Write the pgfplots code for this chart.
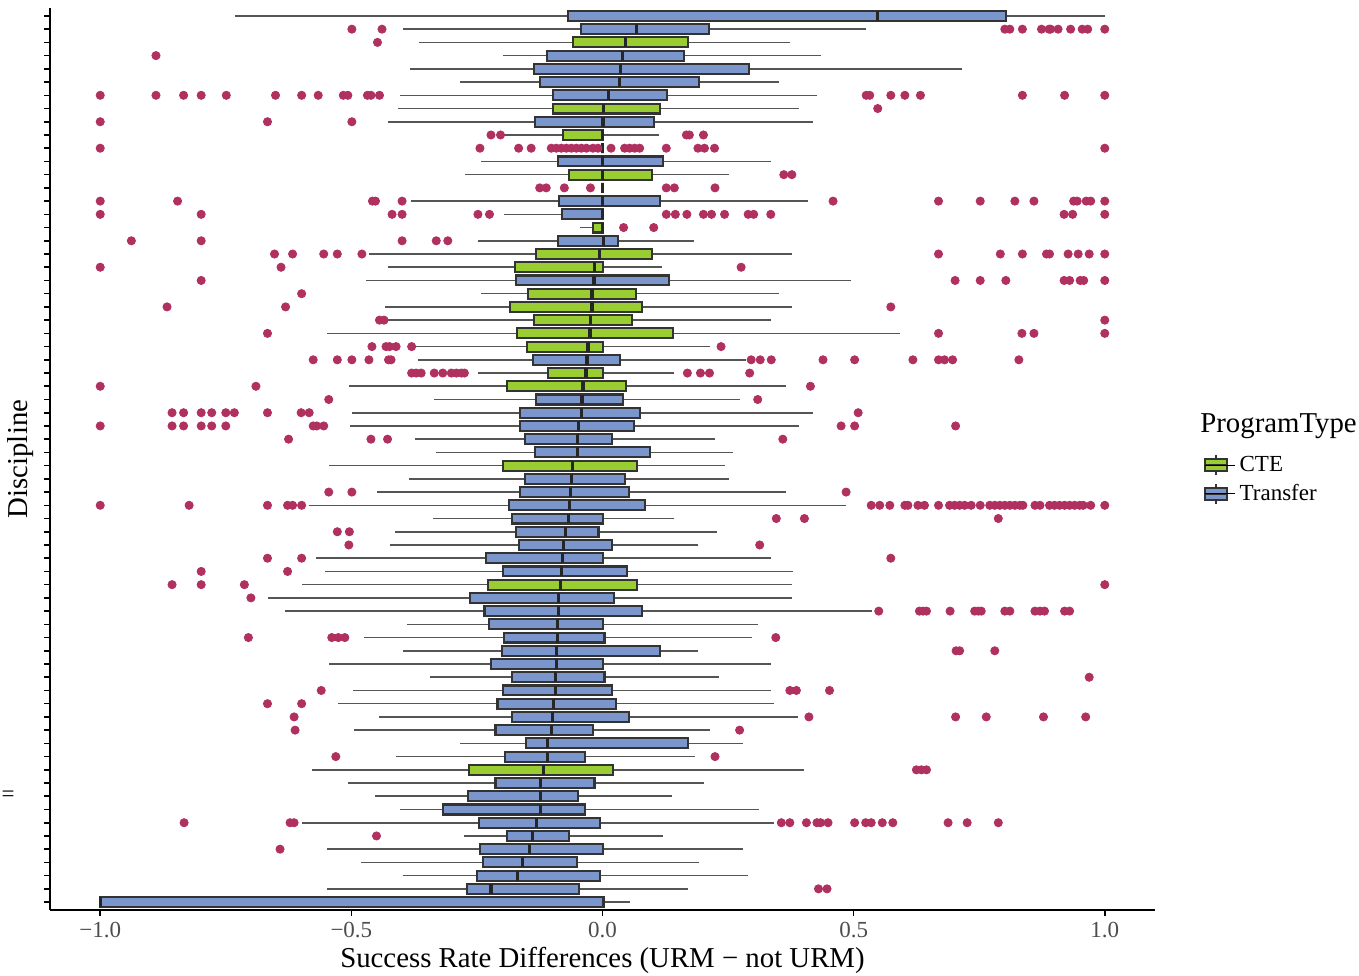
\documentclass[border=0pt]{standalone}
\usepackage{fontspec}
\setmainfont{Liberation Serif}
\usepackage{pgfplots}
\pgfplotsset{compat=1.18}
\usepgfplotslibrary{statistics}
\definecolor{cteG}{RGB}{154,205,50}
\definecolor{trB}{RGB}{122,150,204}
\definecolor{outl}{RGB}{176,48,96}
\definecolor{bord}{RGB}{51,51,51}
\definecolor{whisk}{RGB}{85,85,85}
\definecolor{tickgray}{RGB}{77,77,77}
\newcommand{\bx}[7]{\addplot[boxplot prepared={draw position=#1, lower whisker=#2, lower quartile=#3, median=#4, upper quartile=#5, upper whisker=#6}, fill=#7, draw=bord, forget plot] coordinates {};}
\begin{document}
\begin{tikzpicture}
\begin{axis}[
  at={(0,0)}, anchor=south west,
  scale only axis, width=552.5pt, height=451pt,
  xmin=-1.1, xmax=1.1, ymin=0.4, ymax=68.6, y dir=reverse,
  clip=false,
  axis lines=left, axis line style={-, line width=1pt, black},
  tick align=outside, major tick length=2.75pt,
  tick style={line width=0.8pt, black},
  xtick={-1,-0.5,0,0.5,1},
  xticklabels={−1.0,−0.5,0.0,0.5,1.0},
  xticklabel style={font=\fontsize{11.5}{13}\selectfont, text=tickgray},
  ytick={1,...,68}, yticklabel={\mbox{}},
  xlabel={Success Rate Differences (URM − not URM)},
  ylabel={Discipline},
  label style={font=\fontsize{14.4}{17}\selectfont},
  xlabel style={at={(axis description cs:0.5,-0.0554)}, anchor=center},
  ylabel style={at={(axis description cs:-0.027,0.5)}, anchor=center},
  boxplot/draw direction=x,
  boxplot/box extend=0.75,
  boxplot/whisker extend=0,
  boxplot/every box/.style={draw=bord, line width=1.05pt},
  boxplot/every whisker/.style={draw=whisk, line width=0.8pt},
  boxplot/every median/.style={draw=black!85, line width=1.6pt},
  legend style={at={(axis description cs:1.044,0.477)}, anchor=west, draw=none, fill=none, inner sep=0pt,
    font=\fontsize{11.5}{14}\selectfont, row sep=1pt},
  legend cell align=left,
]
\bx{1}{-0.732}{-0.068}{0.548}{0.803}{1.0}{trB}
\bx{2}{-0.398}{-0.043}{0.068}{0.212}{0.525}{trB}
\bx{3}{-0.365}{-0.058}{0.045}{0.170}{0.373}{cteG}
\bx{4}{-0.199}{-0.111}{0.040}{0.163}{0.436}{trB}
\bx{5}{-0.384}{-0.137}{0.036}{0.291}{0.716}{trB}
\bx{6}{-0.284}{-0.125}{0.034}{0.193}{0.351}{trB}
\bx{7}{-0.403}{-0.099}{0.012}{0.129}{0.427}{trB}
\bx{8}{-0.407}{-0.098}{0.002}{0.114}{0.391}{cteG}
\bx{9}{-0.428}{-0.135}{0.001}{0.102}{0.419}{trB}
\bx{10}{-0.195}{-0.078}{0.0}{0.0}{0.112}{cteG}
\bx{11}{0}{0}{0}{0}{0}{cteG}
\bx{12}{-0.241}{-0.088}{0.0}{0.120}{0.335}{trB}
\bx{13}{-0.274}{-0.067}{0.0}{0.098}{0.252}{cteG}
\bx{14}{0}{0}{0}{0}{0}{cteG}
\bx{15}{-0.381}{-0.087}{0.0}{0.114}{0.409}{trB}
\bx{16}{-0.197}{-0.081}{0.0}{0.0}{0.0}{trB}
\bx{17}{-0.044}{-0.019}{0.0}{0.0}{0.0}{cteG}
\bx{18}{-0.248}{-0.089}{0.002}{0.031}{0.183}{trB}
\bx{19}{-0.465}{-0.132}{-0.006}{0.099}{0.377}{cteG}
\bx{20}{-0.428}{-0.174}{-0.016}{0.001}{0.119}{cteG}
\bx{21}{-0.471}{-0.172}{-0.017}{0.133}{0.494}{trB}
\bx{22}{-0.242}{-0.149}{-0.021}{0.066}{0.351}{cteG}
\bx{23}{-0.434}{-0.185}{-0.021}{0.078}{0.377}{cteG}
\bx{24}{-0.428}{-0.137}{-0.024}{0.058}{0.335}{cteG}
\bx{25}{-0.549}{-0.170}{-0.025}{0.140}{0.592}{cteG}
\bx{26}{-0.375}{-0.151}{-0.029}{0.001}{0.215}{cteG}
\bx{27}{-0.368}{-0.139}{-0.031}{0.035}{0.286}{trB}
\bx{28}{-0.247}{-0.108}{-0.033}{0.001}{0.143}{cteG}
\bx{29}{-0.505}{-0.190}{-0.039}{0.047}{0.365}{cteG}
\bx{30}{-0.335}{-0.132}{-0.041}{0.040}{0.274}{trB}
\bx{31}{-0.499}{-0.165}{-0.042}{0.074}{0.419}{trB}
\bx{32}{-0.503}{-0.165}{-0.048}{0.062}{0.391}{trB}
\bx{33}{-0.373}{-0.155}{-0.050}{0.019}{0.223}{trB}
\bx{34}{-0.331}{-0.134}{-0.050}{0.094}{0.260}{trB}
\bx{35}{-0.544}{-0.199}{-0.060}{0.068}{0.243}{cteG}
\bx{36}{-0.386}{-0.155}{-0.062}{0.044}{0.252}{trB}
\bx{37}{-0.449}{-0.164}{-0.064}{0.052}{0.366}{trB}
\bx{38}{-0.585}{-0.187}{-0.066}{0.084}{0.484}{trB}
\bx{39}{-0.338}{-0.181}{-0.068}{0.001}{0.143}{trB}
\bx{40}{-0.414}{-0.172}{-0.074}{-0.008}{0.228}{trB}
\bx{41}{-0.424}{-0.167}{-0.078}{0.019}{0.190}{trB}
\bx{42}{-0.570}{-0.232}{-0.079}{0.001}{0.336}{trB}
\bx{43}{-0.552}{-0.199}{-0.081}{0.049}{0.379}{trB}
\bx{44}{-0.599}{-0.228}{-0.084}{0.069}{0.377}{cteG}
\bx{45}{-0.665}{-0.264}{-0.087}{0.022}{0.377}{trB}
\bx{46}{-0.632}{-0.235}{-0.088}{0.078}{0.537}{trB}
\bx{47}{-0.390}{-0.226}{-0.089}{0.001}{0.309}{trB}
\bx{48}{-0.474}{-0.197}{-0.090}{0.004}{0.297}{trB}
\bx{49}{-0.398}{-0.200}{-0.091}{0.115}{0.190}{trB}
\bx{50}{-0.544}{-0.222}{-0.092}{0.001}{0.335}{trB}
\bx{51}{-0.343}{-0.180}{-0.094}{0.004}{0.232}{trB}
\bx{52}{-0.496}{-0.199}{-0.094}{0.019}{0.335}{trB}
\bx{53}{-0.526}{-0.209}{-0.097}{0.026}{0.341}{trB}
\bx{54}{-0.444}{-0.181}{-0.099}{0.052}{0.390}{trB}
\bx{55}{-0.495}{-0.213}{-0.102}{-0.019}{0.215}{trB}
\bx{56}{-0.283}{-0.152}{-0.109}{0.170}{0.280}{trB}
\bx{57}{-0.411}{-0.194}{-0.109}{-0.035}{0.185}{trB}
\bx{58}{-0.579}{-0.265}{-0.118}{0.021}{0.402}{cteG}
\bx{59}{-0.507}{-0.213}{-0.124}{-0.016}{0.203}{trB}
\bx{60}{-0.453}{-0.267}{-0.124}{-0.049}{0.138}{trB}
\bx{61}{-0.404}{-0.318}{-0.124}{-0.035}{0.311}{trB}
\bx{62}{-0.599}{-0.246}{-0.131}{-0.005}{0.341}{trB}
\bx{63}{-0.276}{-0.191}{-0.140}{-0.066}{0.120}{trB}
\bx{64}{-0.548}{-0.244}{-0.145}{0.001}{0.280}{trB}
\bx{65}{-0.481}{-0.238}{-0.159}{-0.051}{0.193}{trB}
\bx{66}{-0.398}{-0.250}{-0.170}{-0.005}{0.289}{trB}
\bx{67}{-0.548}{-0.270}{-0.222}{-0.046}{0.170}{trB}
\bx{68}{-1.0}{-1.0}{-1.0}{0.002}{0.054}{trB}
\addplot[only marks, mark=*, mark size=2.05pt, color=outl, forget plot] table {
x y
-0.499 2
-0.439 2
0.801 2
0.811 2
0.836 2
0.874 2
0.889 2
0.892 2
0.907 2
0.932 2
0.955 2
0.966 2
1.0 2
-0.448 3
-0.889 4
-1.0 7
-0.889 7
-0.834 7
-0.799 7
-0.749 7
-0.651 7
-0.599 7
-0.566 7
-0.516 7
-0.507 7
-0.468 7
-0.461 7
-0.444 7
0.525 7
0.532 7
0.574 7
0.602 7
0.633 7
0.836 7
0.920 7
1.0 7
0.548 8
-1.0 9
-0.667 9
-0.499 9
-0.222 10
-0.203 10
0.167 10
0.173 10
0.201 10
-1.0 11
-0.244 11
-0.167 11
-0.142 11
-0.102 11
-0.092 11
-0.082 11
-0.072 11
-0.062 11
-0.052 11
-0.042 11
-0.032 11
-0.019 11
-0.009 11
0.017 11
0.044 11
0.054 11
0.064 11
0.074 11
0.127 11
0.190 11
0.203 11
0.223 11
1.0 11
0.361 13
0.377 13
-0.125 14
-0.112 14
-0.076 14
-0.024 14
0.127 14
0.143 14
0.224 14
-1.0 15
-0.846 15
-0.458 15
-0.452 15
-0.399 15
0.459 15
0.669 15
0.752 15
0.821 15
0.859 15
0.938 15
0.945 15
0.963 15
0.972 15
1.0 15
-1.0 16
-0.799 16
-0.419 16
-0.399 16
-0.248 16
-0.225 16
0.127 16
0.145 16
0.168 16
0.201 16
0.217 16
0.243 16
0.290 16
0.301 16
0.335 16
0.919 16
0.936 16
1.0 16
0.042 17
0.102 17
-0.938 18
-0.799 18
-0.399 18
-0.331 18
-0.308 18
-0.653 19
-0.617 19
-0.555 19
-0.528 19
-0.479 19
0.669 19
0.792 19
0.836 19
0.884 19
0.890 19
0.927 19
0.947 19
0.969 19
1.0 19
-1.0 20
-0.640 20
0.276 20
-0.799 21
0.702 21
0.752 21
0.803 21
0.919 21
0.930 21
0.951 21
0.958 21
1.0 21
-0.599 22
-0.867 23
-0.631 23
0.574 23
-0.444 24
-0.435 24
1.0 24
-0.667 25
0.669 25
0.835 25
0.859 25
1.0 25
-0.459 26
-0.431 26
-0.424 26
-0.411 26
-0.380 26
0.236 26
-0.576 27
-0.528 27
-0.499 27
-0.465 27
-0.426 27
-0.421 27
0.296 27
0.314 27
0.336 27
0.439 27
0.502 27
0.618 27
0.669 27
0.681 27
0.697 27
0.829 27
-0.380 28
-0.371 28
-0.361 28
-0.335 28
-0.318 28
-0.301 28
-0.291 28
-0.281 28
-0.275 28
0.169 28
0.195 28
0.213 28
0.293 28
-1.0 29
-0.690 29
0.414 29
-0.545 30
0.309 30
-0.857 31
-0.834 31
-0.799 31
-0.778 31
-0.750 31
-0.733 31
-0.667 31
-0.600 31
-0.584 31
0.509 31
-1.0 32
-0.857 32
-0.834 32
-0.799 32
-0.778 32
-0.750 32
-0.576 32
-0.569 32
-0.555 32
0.475 32
0.502 32
0.703 32
-0.625 33
-0.461 33
-0.428 33
0.359 33
-0.545 37
-0.499 37
0.485 37
-1.0 38
-0.823 38
-0.667 38
-0.627 38
-0.617 38
-0.599 38
0.535 38
0.552 38
0.572 38
0.602 38
0.608 38
0.628 38
0.641 38
0.669 38
0.691 38
0.701 38
0.711 38
0.721 38
0.734 38
0.752 38
0.771 38
0.781 38
0.791 38
0.801 38
0.811 38
0.821 38
0.831 38
0.837 38
0.861 38
0.871 38
0.890 38
0.900 38
0.910 38
0.920 38
0.930 38
0.940 38
0.950 38
0.957 38
0.972 38
1.0 38
0.346 39
0.402 39
0.788 39
-0.528 40
-0.504 40
-0.505 41
0.313 41
-0.667 42
-0.599 42
0.574 42
-0.799 43
-0.627 43
-0.857 44
-0.799 44
-0.713 44
1.0 44
-0.700 45
0.550 46
0.631 46
0.638 46
0.645 46
0.692 46
0.741 46
0.748 46
0.754 46
0.801 46
0.811 46
0.861 46
0.871 46
0.880 46
0.920 46
0.930 46
-0.705 48
-0.539 48
-0.526 48
-0.513 48
0.345 48
0.704 49
0.711 49
0.781 49
0.969 51
-0.560 52
0.373 52
0.386 52
0.452 52
-0.667 53
-0.599 53
-0.614 54
0.411 54
0.703 54
0.764 54
0.878 54
0.962 54
-0.612 55
0.273 55
-0.531 57
0.224 57
0.625 58
0.635 58
0.645 58
-0.833 62
-0.622 62
-0.614 62
0.356 62
0.373 62
0.406 62
0.427 62
0.434 62
0.449 62
0.502 62
0.524 62
0.535 62
0.557 62
0.578 62
0.688 62
0.726 62
0.788 62
-0.450 63
-0.642 64
0.430 67
0.447 67
};
\addlegendimage{legend image code/.code={
  \draw[line width=0.8pt, bord] (5.5pt,-5pt) -- (5.5pt,5pt);
  \draw[fill=cteG, draw=bord, line width=0.8pt] (0pt,-3pt) rectangle (11pt,3pt);
  \draw[line width=1.2pt, bord] (0pt,0pt) -- (11pt,0pt);
  \path (0pt,0pt) -- (15pt,0pt);}}
\addlegendentry{CTE}
\addlegendimage{legend image code/.code={
  \draw[line width=0.8pt, bord] (5.5pt,-5pt) -- (5.5pt,5pt);
  \draw[fill=trB, draw=bord, line width=0.8pt] (0pt,-3pt) rectangle (11pt,3pt);
  \draw[line width=1.2pt, bord] (0pt,0pt) -- (11pt,0pt);
  \path (0pt,0pt) -- (15pt,0pt);}}
\addlegendentry{Transfer}
\node[anchor=base west, inner sep=0pt, font=\fontsize{14.4}{17}\selectfont] at (axis description cs:1.0407,0.529) {ProgramType};
\node[anchor=center, inner sep=0pt, font=\fontsize{11.5}{13}\selectfont] at (axis description cs:-0.038,0.126) {=};
\end{axis}
\pgfresetboundingbox
\path[use as bounding box] (-25pt,-32.5pt) rectangle (654.5pt,455pt);
\end{tikzpicture}
\end{document}
